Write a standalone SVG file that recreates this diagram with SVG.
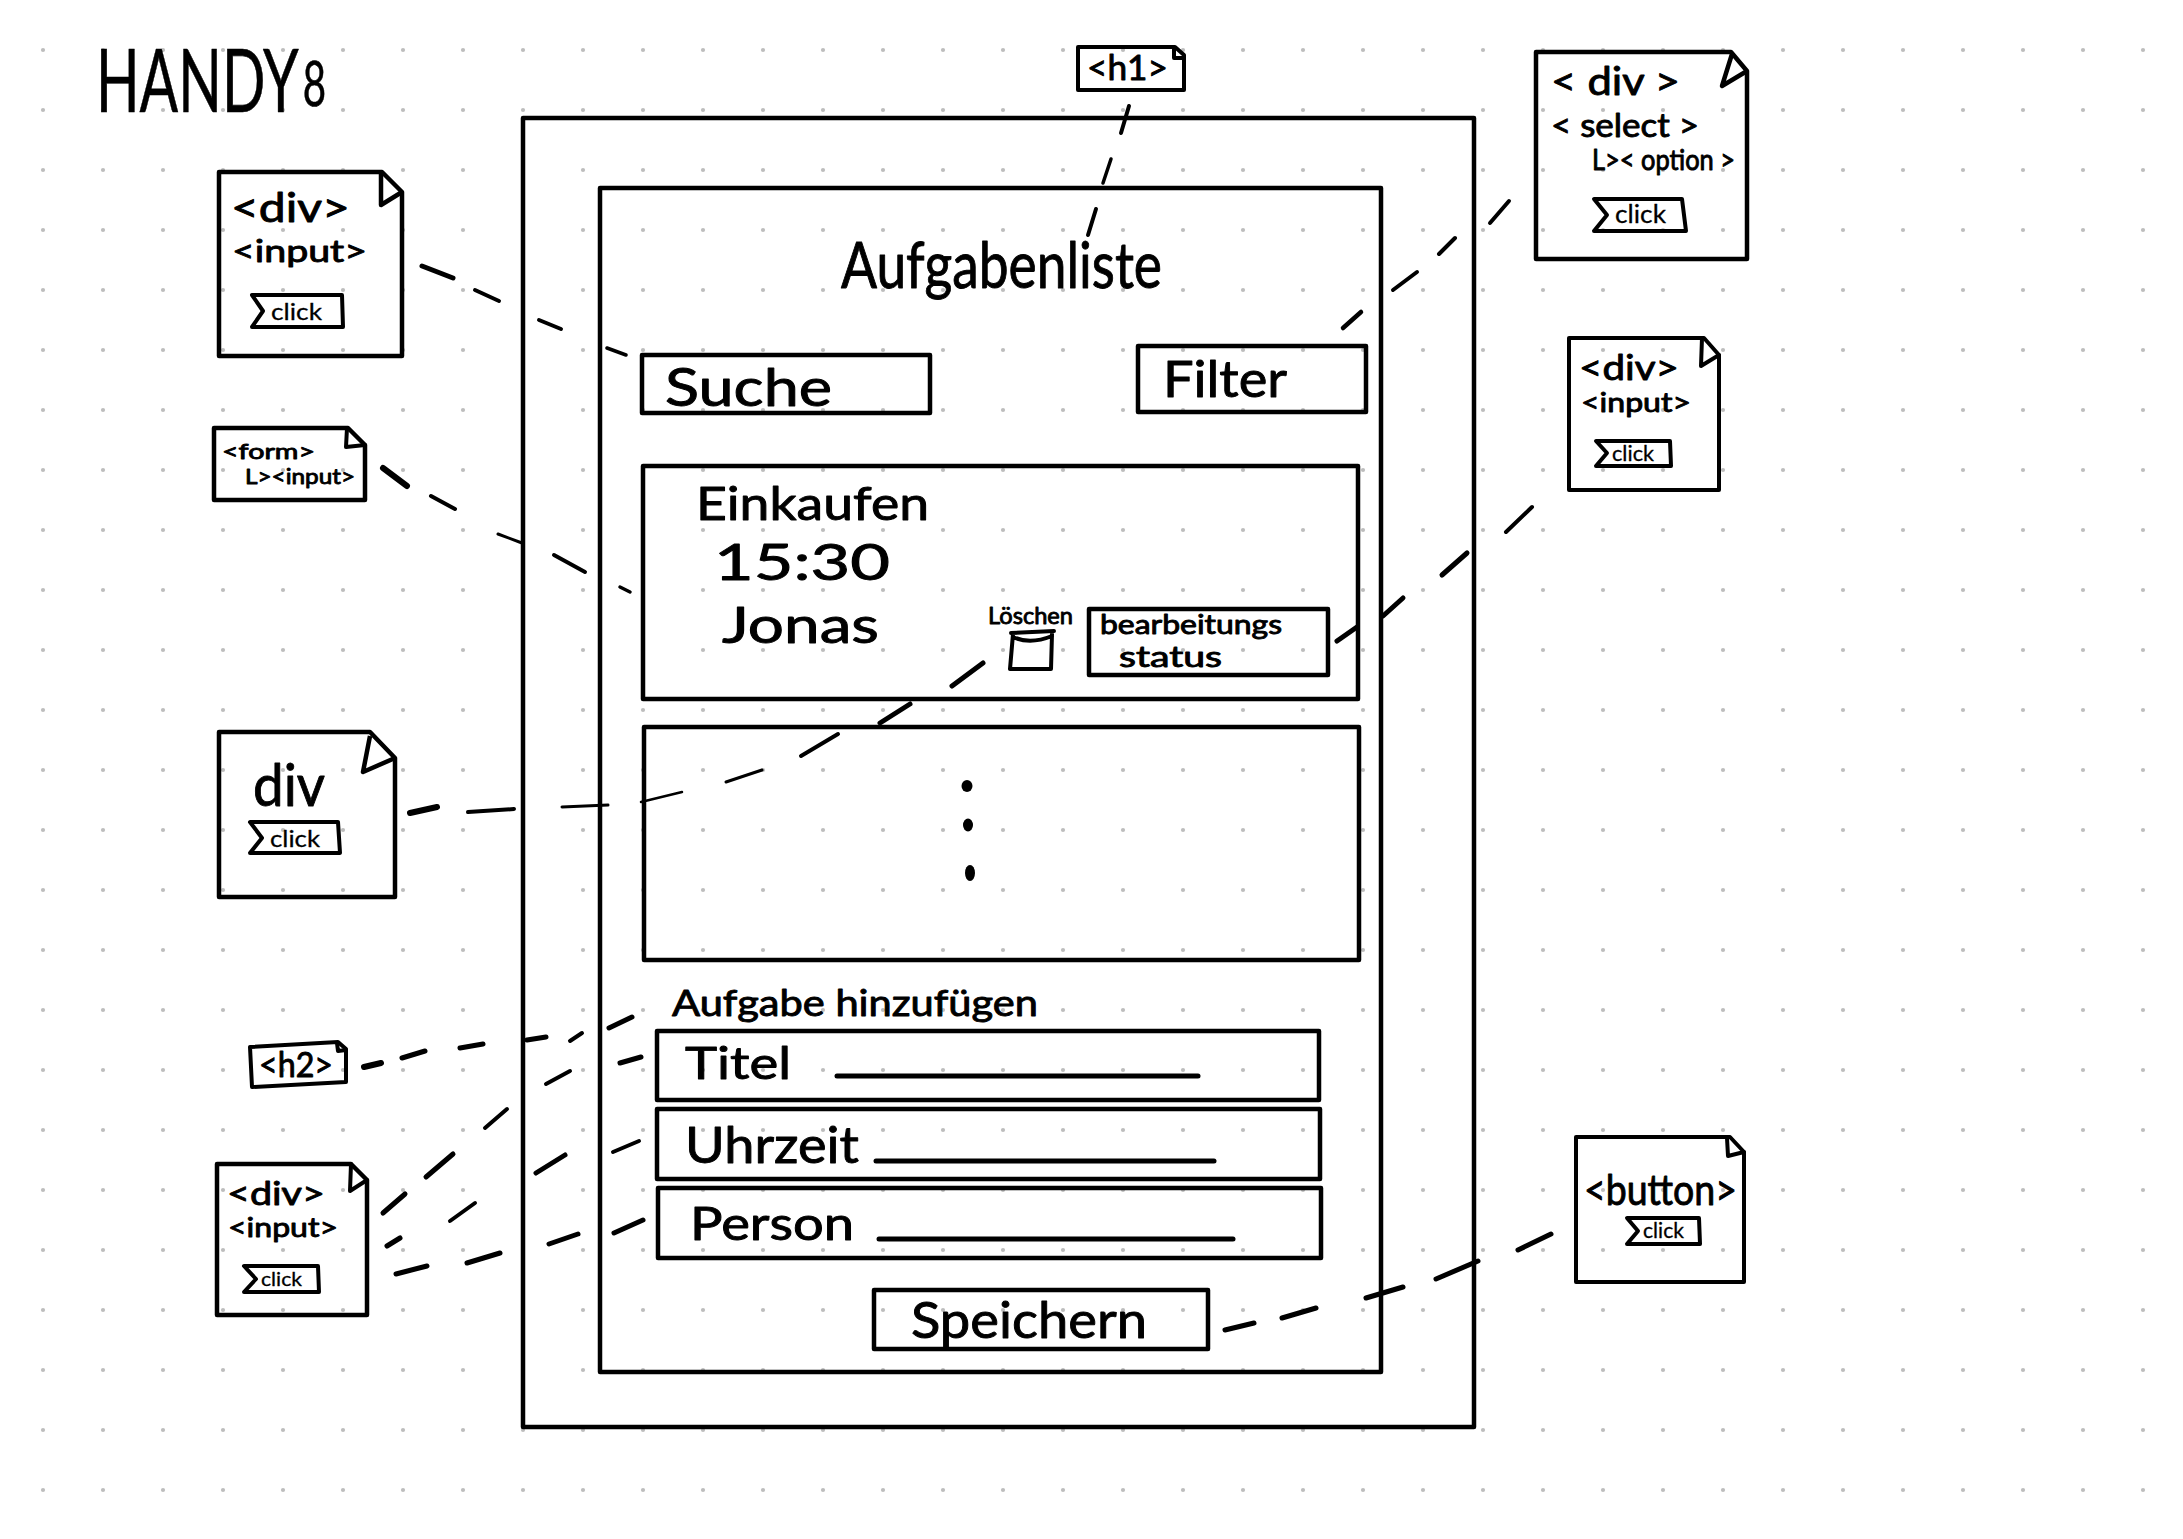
<svg xmlns="http://www.w3.org/2000/svg" width="2183" height="1539" viewBox="0 0 2183 1539">
<style>
.box{fill:none;stroke:#000;stroke-width:4.5;stroke-linejoin:round}
.small{fill:none;stroke:#000;stroke-width:4;stroke-linejoin:round;stroke-linecap:round}
.ln{fill:none;stroke:#000;stroke-width:5;stroke-linecap:round}
text{font-family:"Lato","Liberation Sans",sans-serif;fill:#000;stroke:#000;stroke-width:.9;stroke-linejoin:round}
.click{stroke-width:.3}
#connectors line{stroke:#000;stroke-linecap:round}
</style>
<defs>
<pattern id="grid" patternUnits="userSpaceOnUse" x="13" y="20" width="60" height="60"><circle cx="30" cy="30" r="2.1" fill="#bdbdbd"/></pattern>
</defs>
<rect width="2183" height="1539" fill="#fff"/>
<rect x="13" y="20" width="2160" height="1500" fill="url(#grid)"/>

<text id="title" x="96" y="112" font-size="88" textLength="230" lengthAdjust="spacingAndGlyphs" style="stroke-width:.6">HANDY<tspan font-size="62" dx="6" dy="-6">8</tspan></text>

<g id="phone">
<rect class="box" x="523" y="118" width="951" height="1309"/>
<rect class="box" x="600" y="188" width="781" height="1184"/>
</g>
<g id="heading"><text x="841" y="288" font-size="64" textLength="321" lengthAdjust="spacingAndGlyphs">Aufgabenliste</text></g>
<g id="suche"><rect class="box" x="642" y="355" width="288" height="58"/><text x="665" y="406" font-size="52" textLength="167" lengthAdjust="spacingAndGlyphs">Suche</text></g>
<g id="filter"><rect class="box" x="1138" y="346" width="228" height="66"/><text x="1163" y="397" font-size="50" textLength="124" lengthAdjust="spacingAndGlyphs">Filter</text></g>

<g id="card1">
<rect class="box" x="643" y="466" width="715" height="233"/>
<text x="696" y="520" font-size="46" textLength="233" lengthAdjust="spacingAndGlyphs">Einkaufen</text>
<text x="714" y="580" font-size="50" textLength="176" lengthAdjust="spacingAndGlyphs">15:30</text>
<text x="722" y="643" font-size="50" textLength="157" lengthAdjust="spacingAndGlyphs">Jonas</text>
<text x="988" y="624" font-size="24" textLength="85" lengthAdjust="spacingAndGlyphs">Löschen</text>
<path class="small" d="M1011 633 L1054 631 M1013 637 Q1030 645 1052 636 M1013 634 L1010 669 L1051 669 L1052 634"/>
<rect class="box" x="1089" y="609" width="239" height="66"/>
<text x="1100" y="634" font-size="26" textLength="182" lengthAdjust="spacingAndGlyphs">bearbeitungs</text>
<text x="1119" y="667" font-size="28" textLength="103" lengthAdjust="spacingAndGlyphs">status</text>
</g>
<g id="card2">
<rect class="box" x="644" y="727" width="715" height="233"/>
<ellipse cx="967" cy="786" rx="5.5" ry="6"/>
<ellipse cx="968" cy="825" rx="5" ry="6.5"/>
<ellipse cx="970" cy="873" rx="5" ry="8"/>
</g>
<g id="subheading"><text x="672" y="1016" font-size="36" textLength="366" lengthAdjust="spacingAndGlyphs">Aufgabe hinzufügen</text></g>
<g id="titel"><rect class="box" x="657" y="1031" width="662" height="69"/><text x="685" y="1079" font-size="44" textLength="106" lengthAdjust="spacingAndGlyphs">Titel</text><line class="ln" x1="837" y1="1076" x2="1198" y2="1076"/></g>
<g id="uhrzeit"><rect class="box" x="657" y="1109" width="663" height="70"/><text x="685" y="1163" font-size="50" textLength="174" lengthAdjust="spacingAndGlyphs">Uhrzeit</text><line class="ln" x1="876" y1="1161" x2="1214" y2="1161"/></g>
<g id="person"><rect class="box" x="658" y="1188" width="663" height="70"/><text x="690" y="1240" font-size="46" textLength="164" lengthAdjust="spacingAndGlyphs">Person</text><line class="ln" x1="879" y1="1239" x2="1233" y2="1239"/></g>
<g id="speichern"><rect class="box" x="874" y="1290" width="334" height="59"/><text x="911" y="1338" font-size="50" textLength="236" lengthAdjust="spacingAndGlyphs">Speichern</text></g>

<g id="note-search">
<path class="box" d="M219 172H382L402 192V356H219Z"/><path class="box" d="M381 172V205L402 192"/>
<text x="231" y="222" font-size="40" textLength="119" lengthAdjust="spacingAndGlyphs">&lt;div&gt;</text>
<text x="232" y="262" font-size="30" textLength="135" lengthAdjust="spacingAndGlyphs">&lt;input&gt;</text>
<path class="small" d="M252 295H342L343 327H252L263 311Z"/>
<text class="click" x="271" y="320" font-size="24" textLength="51" lengthAdjust="spacingAndGlyphs">click</text>
</g>
<g id="note-form">
<path class="box" d="M214 428H348L365 445V500H214Z"/><path class="small" d="M347 428L346 447L365 445"/>
<text x="222" y="459" font-size="22" textLength="93" lengthAdjust="spacingAndGlyphs">&lt;form&gt;</text>
<text x="245" y="484" font-size="22" textLength="110" lengthAdjust="spacingAndGlyphs">L&gt;&lt;input&gt;</text>
</g>
<g id="note-div">
<path class="box" d="M219 732H370L395 758V897H219Z"/><path class="box" d="M370 736L363 772L395 758"/>
<text x="253" y="806" font-size="58" textLength="72" lengthAdjust="spacingAndGlyphs">div</text>
<path class="small" d="M250 822H338L340 853H250L262 838Z"/>
<text class="click" x="270" y="847" font-size="24" textLength="50" lengthAdjust="spacingAndGlyphs">click</text>
</g>
<g id="note-h2">
<path class="small" d="M250 1047L338 1042L346 1049L346 1082L252 1087Z"/><path class="small" d="M337 1043L338 1051L346 1050"/>
<text x="259" y="1077" font-size="34" textLength="74" lengthAdjust="spacingAndGlyphs">&lt;h2&gt;</text>
</g>
<g id="note-inputs">
<path class="box" d="M217 1164H351L367 1180V1315H217Z"/><path class="small" d="M351 1164L350 1191L367 1180"/>
<text x="227" y="1205" font-size="32" textLength="98" lengthAdjust="spacingAndGlyphs">&lt;div&gt;</text>
<text x="228" y="1237" font-size="26" textLength="110" lengthAdjust="spacingAndGlyphs">&lt;input&gt;</text>
<path class="small" d="M244 1266H318L319 1292H244L256 1279Z"/>
<text class="click" x="261" y="1286" font-size="20" textLength="41" lengthAdjust="spacingAndGlyphs">click</text>
</g>
<g id="note-h1">
<path class="small" d="M1078 47H1175L1184 55V90H1078Z"/><path class="small" d="M1174 48V58H1184"/>
<text x="1087" y="80" font-size="34" textLength="81" lengthAdjust="spacingAndGlyphs">&lt;h1&gt;</text>
</g>
<g id="note-select">
<path class="box" d="M1536 52H1731L1747 71V259H1536Z"/><path class="box" d="M1732 54L1722 86L1747 71"/>
<text x="1551" y="95" font-size="38" textLength="129" lengthAdjust="spacingAndGlyphs">&lt; div &gt;</text>
<text x="1551" y="137" font-size="32" textLength="148" lengthAdjust="spacingAndGlyphs">&lt; select &gt;</text>
<text x="1592" y="170" font-size="28" textLength="143" lengthAdjust="spacingAndGlyphs">L&gt;&lt; option &gt;</text>
<path class="small" d="M1594 199H1682L1686 231H1594L1607 215Z"/>
<text class="click" x="1615" y="223" font-size="25" textLength="51" lengthAdjust="spacingAndGlyphs">click</text>
</g>
<g id="note-status">
<path class="small" d="M1569 338H1704L1719 355V490H1569Z"/><path class="small" d="M1702 338L1701 366L1719 355"/>
<text x="1579" y="380" font-size="34" textLength="100" lengthAdjust="spacingAndGlyphs">&lt;div&gt;</text>
<text x="1581" y="412" font-size="26" textLength="110" lengthAdjust="spacingAndGlyphs">&lt;input&gt;</text>
<path class="small" d="M1596 441H1670L1671 466H1596L1607 453Z"/>
<text class="click" x="1612" y="461" font-size="21" textLength="42" lengthAdjust="spacingAndGlyphs">click</text>
</g>
<g id="note-button">
<path class="small" d="M1576 1137H1730L1744 1152V1282H1576Z"/><path class="small" d="M1727 1138L1728 1156L1744 1152"/>
<text x="1584" y="1205" font-size="42" textLength="153" lengthAdjust="spacingAndGlyphs">&lt;button&gt;</text>
<path class="small" d="M1627 1218H1699L1700 1244H1627L1638 1231Z"/>
<text class="click" x="1643" y="1238" font-size="21" textLength="41" lengthAdjust="spacingAndGlyphs">click</text>
</g>

<g id="connectors">
<line x1="422" y1="266" x2="453" y2="278" stroke-width="5"/>
<line x1="475" y1="290" x2="499" y2="301" stroke-width="4"/>
<line x1="539" y1="320" x2="561" y2="329" stroke-width="4"/>
<line x1="607" y1="348" x2="626" y2="355" stroke-width="3.5"/>
<line x1="383" y1="468" x2="407" y2="486" stroke-width="6"/>
<line x1="431" y1="496" x2="455" y2="509" stroke-width="4"/>
<line x1="498" y1="534" x2="522" y2="543" stroke-width="3"/>
<line x1="554" y1="555" x2="585" y2="572" stroke-width="4"/>
<line x1="620" y1="587" x2="630" y2="592" stroke-width="3.5"/>
<line x1="1129" y1="106" x2="1121" y2="133" stroke-width="4"/>
<line x1="1111" y1="159" x2="1103" y2="183" stroke-width="3.5"/>
<line x1="1096" y1="209" x2="1088" y2="235" stroke-width="4"/>
<line x1="1509" y1="201" x2="1490" y2="223" stroke-width="4"/>
<line x1="1455" y1="238" x2="1439" y2="254" stroke-width="4"/>
<line x1="1417" y1="272" x2="1393" y2="290" stroke-width="4"/>
<line x1="1361" y1="312" x2="1343" y2="328" stroke-width="4.5"/>
<line x1="1532" y1="507" x2="1506" y2="532" stroke-width="4"/>
<line x1="1467" y1="553" x2="1442" y2="575" stroke-width="5"/>
<line x1="1403" y1="598" x2="1383" y2="616" stroke-width="5"/>
<line x1="1357" y1="627" x2="1337" y2="641" stroke-width="5"/>
<line x1="410" y1="813" x2="437" y2="807" stroke-width="6"/>
<line x1="468" y1="812" x2="514" y2="809" stroke-width="4"/>
<line x1="562" y1="807" x2="608" y2="805" stroke-width="3"/>
<line x1="641" y1="802" x2="682" y2="792" stroke-width="2.5"/>
<line x1="726" y1="782" x2="762" y2="770" stroke-width="3"/>
<line x1="801" y1="756" x2="838" y2="734" stroke-width="4"/>
<line x1="880" y1="723" x2="910" y2="704" stroke-width="5"/>
<line x1="952" y1="686" x2="983" y2="663" stroke-width="5"/>
<line x1="364" y1="1067" x2="381" y2="1063" stroke-width="6"/>
<line x1="402" y1="1058" x2="425" y2="1051" stroke-width="5"/>
<line x1="460" y1="1048" x2="483" y2="1044" stroke-width="5"/>
<line x1="527" y1="1040" x2="546" y2="1037" stroke-width="5"/>
<line x1="570" y1="1041" x2="582" y2="1033" stroke-width="4"/>
<line x1="609" y1="1028" x2="632" y2="1017" stroke-width="5"/>
<line x1="383" y1="1213" x2="405" y2="1194" stroke-width="5"/>
<line x1="426" y1="1177" x2="453" y2="1154" stroke-width="5"/>
<line x1="485" y1="1128" x2="507" y2="1109" stroke-width="4"/>
<line x1="546" y1="1084" x2="570" y2="1071" stroke-width="4"/>
<line x1="620" y1="1063" x2="641" y2="1057" stroke-width="5"/>
<line x1="387" y1="1246" x2="400" y2="1238" stroke-width="5"/>
<line x1="450" y1="1221" x2="475" y2="1203" stroke-width="4"/>
<line x1="536" y1="1173" x2="565" y2="1155" stroke-width="5"/>
<line x1="613" y1="1152" x2="639" y2="1141" stroke-width="4"/>
<line x1="396" y1="1274" x2="427" y2="1266" stroke-width="5"/>
<line x1="467" y1="1263" x2="500" y2="1253" stroke-width="5"/>
<line x1="549" y1="1244" x2="578" y2="1234" stroke-width="5"/>
<line x1="614" y1="1233" x2="643" y2="1220" stroke-width="5"/>
<line x1="1225" y1="1330" x2="1254" y2="1323" stroke-width="5"/>
<line x1="1282" y1="1318" x2="1316" y2="1308" stroke-width="5"/>
<line x1="1366" y1="1298" x2="1403" y2="1287" stroke-width="5"/>
<line x1="1436" y1="1279" x2="1478" y2="1261" stroke-width="5"/>
<line x1="1518" y1="1250" x2="1551" y2="1234" stroke-width="5"/>
</g>
</svg>
